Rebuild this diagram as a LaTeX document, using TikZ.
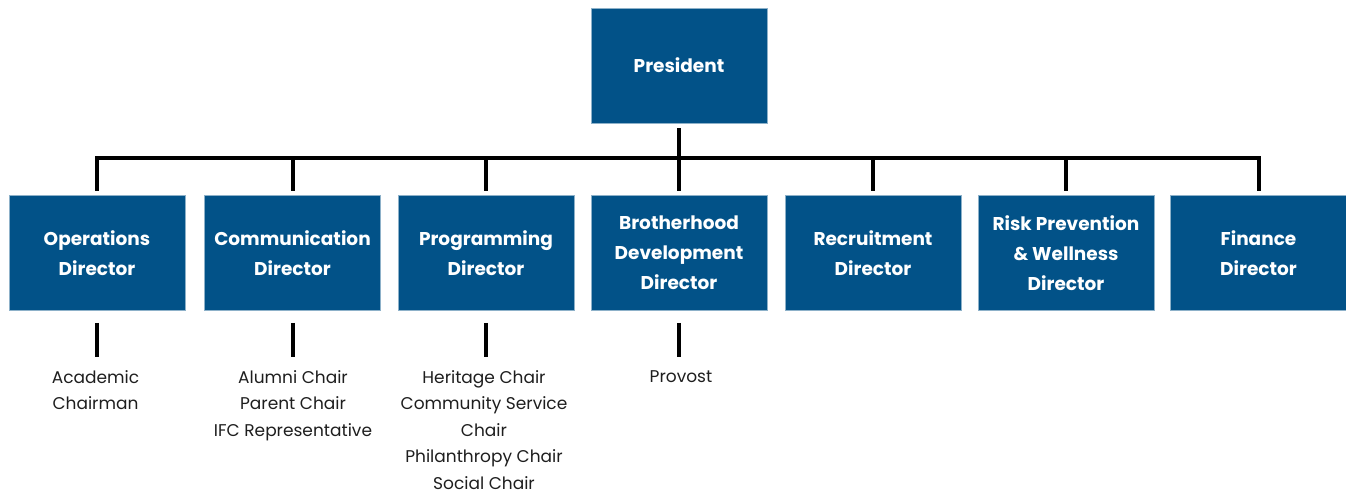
\documentclass[tikz,border=0pt]{standalone}
\usepackage{fontspec}
\setmainfont{Poppins}
\usepackage{xcolor}
\definecolor{Col1}{RGB}{2,82,136}
\definecolor{Col2}{RGB}{30,30,30}
\usetikzlibrary{positioning}
\tikzstyle{Office}=[rectangle,fill=Col1,draw=Col1!45,line width=.6pt,
minimum width=176pt,minimum height=115pt,inner sep=0pt,text=white,
align=center,font=\fontsize{18.5}{30}\selectfont\bfseries]
\tikzstyle{Chairs}=[anchor=north,inner sep=0pt,text=Col2,align=center,
font=\fontsize{17}{26.5}\selectfont]
\tikzstyle{Link}=[draw=black,line width=4pt]

\begin{document}
\begin{tikzpicture}[x=1pt,y=-1pt]
    \useasboundingbox (0,0) rectangle (1346,495);
        \node[Office](pres)at(679,65.5){President};
        \node[Office](ops)at(97,253){Operations\\Director};
        \node[Office](comm)at(292.5,253){Communication\\Director};
        \node[Office](prog)at(486,253){Programming\\Director};
        \node[Office](bro)at(679,253){Brotherhood\\Development\\Director};
        \node[Office](rec)at(873,253){Recruitment\\Director};
        \node[Office](risk)at(1066,253){Risk Prevention\\\& Wellness\\Director};
        \node[Office](fin)at(1258.5,253){Finance\\Director};
        \coordinate(bus)at(679,158);
        \draw[Link,shorten <=5pt,shorten >=4pt](pres)--(bro);
        \foreach \d in {ops,comm,prog,rec,risk,fin}
            \draw[Link,shorten >=4pt](bus)-|(\d);
        \node[Chairs](opsC)at(95.5,370){Academic\\Chairman};
        \node[Chairs](commC)at(293,370){Alumni Chair\\Parent Chair\\IFC Representative};
        \node[Chairs](progC)at(484,370){Heritage Chair\\Community Service\\Chair\\Philanthropy Chair\\Social Chair};
        \node[Chairs](broC)at(681,370){Provost};
        \draw[Link,shorten <=12pt,shorten >=13pt](ops.south)--(ops.south|-opsC.north);
        \draw[Link,shorten <=12pt,shorten >=13pt](comm.south)--(comm.south|-commC.north);
        \draw[Link,shorten <=12pt,shorten >=13pt](prog.south)--(prog.south|-progC.north);
        \draw[Link,shorten <=12pt,shorten >=13pt](bro.south)--(bro.south|-broC.north);
    \end{tikzpicture}
\end{document}
